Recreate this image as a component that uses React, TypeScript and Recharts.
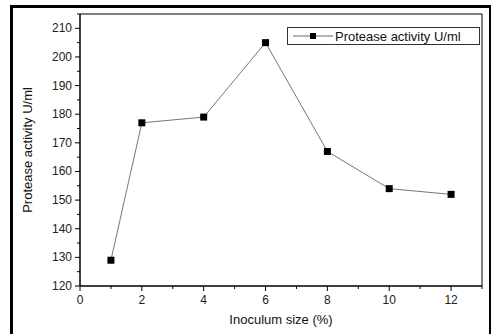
import { LineChart, Line, XAxis, YAxis, ReferenceLine } from 'recharts';

const inoculum = [1, 2, 4, 6, 8, 10, 12];
const activity = [129, 177, 179, 205, 167, 154, 152];
const xTicks = [0, 1, 2, 3, 4, 5, 6, 7, 8, 9, 10, 11, 12, 13];
const yTicks = [120, 125, 130, 135, 140, 145, 150, 155, 160, 165, 170, 175, 180, 185, 190, 195, 200, 205, 210, 215];
const seriesName = 'Protease activity U/ml';

const data = inoculum.map((x, i) => ({ x, activity: activity[i] }));

const FONT = 'Arial, "Liberation Sans", sans-serif';

function XTick(props: any) {
  const { x, y, payload } = props;
  const major = payload.value % 2 === 0;
  return (
    <g>
      <line x1={x} y1={y} x2={x} y2={y + (major ? 5 : 3)} stroke="#000" strokeWidth={1} />
      {major && payload.value <= 12 && (
        <text x={x} y={y + 18} textAnchor="middle" fontSize={12} fontFamily={FONT} fill="#222">
          {payload.value}
        </text>
      )}
    </g>
  );
}

function YTick(props: any) {
  const { x, y, payload } = props;
  const major = payload.value % 10 === 0;
  return (
    <g>
      <line x1={x} y1={y} x2={x - (major ? 5 : 3)} y2={y} stroke="#000" strokeWidth={1} />
      {major && (
        <text x={x - 8} y={y + 4} textAnchor="end" fontSize={12} fontFamily={FONT} fill="#222">
          {payload.value}
        </text>
      )}
    </g>
  );
}

function SquareDot(props: any) {
  const { cx, cy } = props;
  return <rect x={cx - 3.5} y={cy - 3.5} width={7} height={7} fill="#000" />;
}

function LegendBox() {
  return (
    <div
      style={{
        position: 'absolute',
        left: 287,
        top: 27,
        width: 191,
        height: 16,
        border: '1px solid #333',
        background: '#fff',
        display: 'flex',
        alignItems: 'center',
        fontFamily: FONT,
        fontSize: 13,
        color: '#111',
        zIndex: 2,
      }}
    >
      <svg width={46} height={16}>
        <line x1={5} y1={8} x2={45} y2={8} stroke="#666" strokeWidth={1} />
        <rect x={22} y={5} width={6} height={6} fill="#000" />
      </svg>
      <span style={{ marginLeft: 1 }}>{seriesName}</span>
    </div>
  );
}

export default function App() {
  return (
    <div style={{ position: 'absolute', left: 0, top: 0, width: 491, height: 334, background: '#fff', overflow: 'hidden' }}>
      <div
        style={{
          position: 'absolute',
          left: 10,
          top: 5,
          width: 476,
          height: 340,
          borderTop: '3px solid #000',
          borderLeft: '3px solid #000',
          borderRight: '2px solid #000',
        }}
      />
      <div style={{ position: 'absolute', left: 0, top: 0 }}>
        <LineChart
          width={491}
          height={334}
          data={data}
          margin={{ top: 14, right: 9, bottom: 0, left: 0 }}
        >
          <XAxis
            dataKey="x"
            type="number"
            domain={[0, 13]}
            ticks={xTicks}
            interval={0}
            tickSize={0}
            tickMargin={0}
            tickLine={false}
            tick={<XTick />}
            axisLine={{ stroke: '#000', strokeWidth: 1.5 }}
            height={48}
            label={{ value: 'Inoculum size (%)', position: 'insideBottom', offset: 10, fontSize: 13, fontFamily: FONT, fill: '#111' }}
          />
          <YAxis
            type="number"
            domain={[120, 215]}
            ticks={yTicks}
            interval={0}
            tickSize={0}
            tickMargin={0}
            tickLine={false}
            tick={<YTick />}
            axisLine={{ stroke: '#000', strokeWidth: 1.5 }}
            width={80}
            label={{ value: seriesName, angle: -90, position: 'insideLeft', offset: 27, fontSize: 13, fontFamily: FONT, fill: '#111', style: { textAnchor: 'middle' } }}
          />
          <ReferenceLine y={215} stroke="#000" strokeWidth={1} />
          <ReferenceLine x={13} stroke="#000" strokeWidth={1} />
          <Line
            type="linear"
            dataKey="activity"
            stroke="#777"
            strokeWidth={1}
            dot={<SquareDot />}
            activeDot={false}
            isAnimationActive={false}
          />
        </LineChart>
      </div>
      <LegendBox />
    </div>
  );
}
